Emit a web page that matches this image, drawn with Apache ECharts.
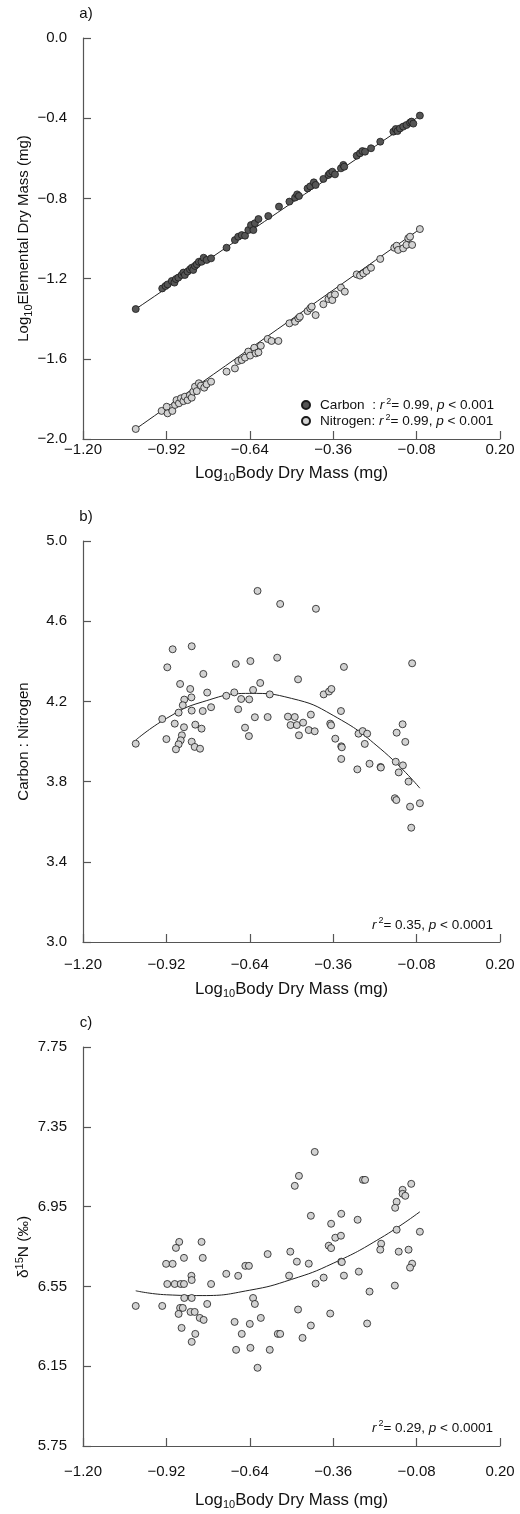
<!DOCTYPE html>
<html>
<head>
<meta charset="utf-8">
<script src="https://cdn.jsdelivr.net/npm/echarts@6/dist/echarts.min.js"></script>
<style>
  html, body { margin: 0; padding: 0; background: #fff; }
  #chart { width: 520px; height: 1514px; }
</style>
</head>
<body>
<div id="chart"></div>
<script>
// ---- a) log10 body dry mass (mg) vs log10 elemental dry mass (mg) ----
const carbonPoints = [
  [-1.023,-1.352],[-0.934,-1.249],[-0.923,-1.237],[-0.916,-1.229],[-0.902,-1.212],[-0.893,-1.220],
  [-0.888,-1.202],[-0.880,-1.195],[-0.869,-1.182],[-0.863,-1.170],[-0.858,-1.182],[-0.849,-1.165],
  [-0.841,-1.154],[-0.835,-1.146],[-0.830,-1.157],[-0.824,-1.137],[-0.818,-1.129],[-0.811,-1.116],
  [-0.802,-1.116],[-0.795,-1.096],[-0.785,-1.107],[-0.770,-1.099],[-0.718,-1.046],[-0.690,-1.008],
  [-0.679,-0.991],[-0.667,-0.983],[-0.656,-0.986],[-0.645,-0.958],[-0.636,-0.933],[-0.628,-0.958],
  [-0.623,-0.924],[-0.611,-0.903],[-0.578,-0.888],[-0.542,-0.841],[-0.507,-0.816],[-0.488,-0.796],
  [-0.481,-0.780],[-0.475,-0.788],[-0.446,-0.750],[-0.437,-0.740],[-0.425,-0.720],[-0.419,-0.733],
  [-0.393,-0.703],[-0.376,-0.683],[-0.371,-0.675],[-0.363,-0.667],[-0.354,-0.680],[-0.334,-0.650],
  [-0.326,-0.633],[-0.323,-0.642],[-0.281,-0.587],[-0.270,-0.575],[-0.262,-0.564],[-0.253,-0.567],
  [-0.233,-0.550],[-0.202,-0.517],[-0.158,-0.467],[-0.150,-0.454],[-0.144,-0.464],[-0.136,-0.451],
  [-0.125,-0.442],[-0.114,-0.434],[-0.102,-0.422],[-0.097,-0.417],[-0.091,-0.427],[-0.069,-0.387]
];
const nitrogenPoints = [
  [-1.023,-1.950],[-0.936,-1.860],[-0.919,-1.839],[-0.916,-1.872],[-0.900,-1.860],[-0.891,-1.830],
  [-0.886,-1.806],[-0.878,-1.822],[-0.871,-1.797],[-0.863,-1.811],[-0.858,-1.789],[-0.849,-1.806],
  [-0.841,-1.781],[-0.835,-1.794],[-0.830,-1.764],[-0.824,-1.739],[-0.818,-1.761],[-0.811,-1.722],
  [-0.804,-1.734],[-0.793,-1.744],[-0.785,-1.727],[-0.770,-1.714],[-0.718,-1.664],[-0.690,-1.648],
  [-0.679,-1.611],[-0.667,-1.606],[-0.656,-1.594],[-0.645,-1.564],[-0.639,-1.584],[-0.625,-1.545],
  [-0.620,-1.573],[-0.611,-1.568],[-0.603,-1.535],[-0.580,-1.501],[-0.567,-1.511],[-0.544,-1.511],
  [-0.507,-1.423],[-0.488,-1.415],[-0.477,-1.398],[-0.472,-1.390],[-0.446,-1.362],[-0.437,-1.348],
  [-0.432,-1.340],[-0.419,-1.382],[-0.393,-1.328],[-0.376,-1.302],[-0.368,-1.285],[-0.363,-1.307],
  [-0.354,-1.279],[-0.334,-1.245],[-0.321,-1.265],[-0.281,-1.179],[-0.270,-1.185],[-0.259,-1.174],
  [-0.248,-1.162],[-0.233,-1.146],[-0.202,-1.102],[-0.155,-1.046],[-0.147,-1.036],[-0.142,-1.057],
  [-0.125,-1.049],[-0.114,-1.032],[-0.108,-0.999],[-0.102,-0.991],[-0.095,-1.032],[-0.069,-0.953]
];
const carbonFit = [[-1.023,-1.352],[-0.069,-0.388]];
const nitrogenFit = [[-1.023,-1.950],[-0.069,-0.953]];

// ---- b) carbon : nitrogen ratio ----
const ratioPoints = [
  [-0.614,4.751],[-0.538,4.686],[-0.899,4.460],[-0.835,4.475],[-0.917,4.370],[-0.687,4.387],
  [-0.638,4.401],[-0.548,4.418],[-0.796,4.337],[-0.874,4.287],[-0.840,4.262],[-0.783,4.244],
  [-0.605,4.292],[-0.629,4.257],[-0.573,4.235],[-0.692,4.245],[-0.719,4.228],[-0.860,4.209],
  [-0.836,4.220],[-0.669,4.212],[-0.642,4.210],[-0.865,4.181],[-0.879,4.144],[-0.835,4.154],
  [-0.798,4.152],[-0.770,4.171],[-0.679,4.161],[-0.934,4.112],[-0.892,4.089],[-0.861,4.071],
  [-0.823,4.084],[-0.802,4.064],[-0.623,4.121],[-0.580,4.122],[-0.656,4.069],[-0.643,4.027],
  [-1.023,3.989],[-0.920,4.012],[-0.868,4.031],[-0.872,4.006],[-0.879,3.986],[-0.888,3.961],
  [-0.835,3.999],[-0.825,3.973],[-0.807,3.964],
  [-0.418,4.662],[-0.324,4.372],[-0.095,4.390],[-0.478,4.310],[-0.392,4.235],[-0.374,4.249],
  [-0.366,4.262],[-0.512,4.124],[-0.489,4.122],[-0.503,4.082],[-0.482,4.082],[-0.461,4.094],
  [-0.435,4.134],[-0.475,4.031],[-0.442,4.057],[-0.422,4.051],[-0.370,4.089],[-0.367,4.081],
  [-0.334,4.152],[-0.353,4.014],[-0.333,3.976],[-0.331,3.971],[-0.333,3.913],[-0.275,4.039],
  [-0.261,4.052],[-0.246,4.039],[-0.254,3.988],[-0.279,3.861],[-0.238,3.889],[-0.201,3.873],
  [-0.200,3.870],[-0.150,3.899],[-0.126,3.881],[-0.140,3.846],[-0.147,4.044],[-0.127,4.086],
  [-0.118,3.998],[-0.107,3.800],[-0.153,3.717],[-0.148,3.708],[-0.102,3.675],[-0.069,3.692],
  [-0.098,3.570]
];
const ratioFit = [
  [-1.023,4.007],[-0.92,4.115],[-0.80,4.197],[-0.64,4.240],[-0.50,4.215],
  [-0.36,4.130],[-0.20,3.962],[-0.069,3.767]
];

// ---- c) delta 15N (per mil) ----
const isotopePoints = [
  [-0.877,6.773],[-0.888,6.743],[-0.802,6.773],[-0.861,6.693],[-0.798,6.693],[-0.921,6.663],
  [-0.899,6.663],[-0.580,6.712],[-0.655,6.653],[-0.643,6.653],[-0.719,6.613],[-0.679,6.603],
  [-0.836,6.603],[-0.835,6.582],[-0.917,6.562],[-0.892,6.562],[-0.872,6.562],[-0.861,6.562],
  [-0.770,6.562],[-0.860,6.492],[-0.835,6.492],[-0.629,6.492],[-0.623,6.462],[-1.023,6.452],
  [-0.934,6.452],[-0.874,6.442],[-0.865,6.442],[-0.879,6.412],[-0.783,6.462],[-0.839,6.422],
  [-0.825,6.422],[-0.808,6.392],[-0.795,6.382],[-0.869,6.342],[-0.823,6.312],[-0.835,6.272],
  [-0.691,6.372],[-0.640,6.362],[-0.603,6.392],[-0.667,6.312],[-0.546,6.312],[-0.538,6.312],
  [-0.686,6.232],[-0.638,6.242],[-0.573,6.232],[-0.614,6.142],
  [-0.422,7.224],[-0.475,7.104],[-0.489,7.054],[-0.260,7.084],[-0.253,7.084],[-0.098,7.064],
  [-0.127,7.034],[-0.127,7.014],[-0.118,7.004],[-0.147,6.974],[-0.152,6.944],[-0.435,6.904],
  [-0.333,6.914],[-0.367,6.864],[-0.278,6.884],[-0.147,6.834],[-0.069,6.824],[-0.353,6.794],
  [-0.334,6.804],[-0.375,6.754],[-0.367,6.742],[-0.199,6.764],[-0.202,6.734],[-0.140,6.724],
  [-0.107,6.734],[-0.504,6.724],[-0.482,6.674],[-0.442,6.664],[-0.333,6.674],[-0.331,6.672],
  [-0.095,6.664],[-0.102,6.644],[-0.508,6.604],[-0.392,6.594],[-0.324,6.604],[-0.274,6.624],
  [-0.419,6.564],[-0.153,6.554],[-0.238,6.524],[-0.478,6.434],[-0.370,6.414],[-0.435,6.354],
  [-0.246,6.364],[-0.463,6.292]
];
const isotopeFit = [
  [-1.023,6.528],[-0.92,6.508],[-0.80,6.504],[-0.64,6.531],[-0.50,6.585],
  [-0.36,6.666],[-0.20,6.793],[-0.069,6.924]
];

// axis ranges: [min, max, interval, decimals]
const xRange = [-1.2, 0.2, 0.28, 2];
const yRanges = [[-2.0, 0.0, 0.4, 1], [3.0, 5.0, 0.4, 1], [5.75, 7.75, 0.4, 2]];

const FONT = '"Liberation Sans", Arial, Helvetica, sans-serif';
const AXIS_COLOR = '#555';
const TEXT_COLOR = '#111';
const DARK_FILL = '#555555';
const LIGHT_FILL = '#d2d2d2';
const EDGE = '#1a1a1a';

const fmt = (d) => (v) => {
  const n = Math.abs(v) < 1e-9 ? 0 : v;
  return n.toFixed(d).replace('-', '\u2212');
};

const grids = [
  { left: 83, right: 20, top: 38, height: 401 },
  { left: 83, right: 20, top: 541, height: 401 },
  { left: 83, right: 20, top: 1047, height: 399 }
];
// gap between each panel's x axis and its tick labels
const xLabelMargins = [3, 15, 18];

const lineStyle = { color: AXIS_COLOR, width: 1.2 };

const xAxes = grids.map((g, i) => ({
  type: 'value', gridIndex: i,
  min: xRange[0], max: xRange[1], interval: xRange[2],
  axisLine: { show: true, onZero: false, lineStyle },
  axisTick: { show: true, inside: true, length: 8, lineStyle },
  axisLabel: { formatter: fmt(xRange[3]), color: TEXT_COLOR, fontSize: 15, fontFamily: FONT, margin: xLabelMargins[i] },
  splitLine: { show: false }
}));

const yAxes = grids.map((g, i) => ({
  type: 'value', gridIndex: i,
  min: yRanges[i][0], max: yRanges[i][1], interval: yRanges[i][2],
  axisLine: { show: true, onZero: false, lineStyle },
  axisTick: { show: true, inside: true, length: 8, lineStyle },
  axisLabel: { formatter: fmt(yRanges[i][3]), color: TEXT_COLOR, fontSize: 15, fontFamily: FONT, margin: 16 },
  splitLine: { show: false }
}));

function scatter(name, data, idx, fill) {
  return {
    name, type: 'scatter', data, xAxisIndex: idx, yAxisIndex: idx,
    symbol: 'circle', symbolSize: 7, z: 3, silent: true,
    itemStyle: { color: fill, borderColor: EDGE, borderWidth: 0.8, opacity: 1 }
  };
}
function fitLine(name, data, idx) {
  return {
    name, type: 'line', data, xAxisIndex: idx, yAxisIndex: idx,
    smooth: true, showSymbol: false, z: 2, silent: true,
    lineStyle: { color: '#222', width: 1 }
  };
}

const statRich = (lh, fs) => ({
  i: { fontStyle: 'italic', fontFamily: FONT, fontSize: fs, color: TEXT_COLOR, lineHeight: lh },
  sup: { fontFamily: FONT, fontSize: 9, color: TEXT_COLOR, verticalAlign: 'top', padding: [0, 0, 0, 2] },
  g: { width: 5 }
});

const titleRich = {
  sub: { fontFamily: FONT, fontSize: 11, color: TEXT_COLOR, verticalAlign: 'bottom' },
  sup: { fontFamily: FONT, fontSize: 11, color: TEXT_COLOR, verticalAlign: 'top' }
};

function textEl(text, x, y, opts) {
  return Object.assign({
    type: 'text', x, y, silent: true,
    style: Object.assign({
      text, fill: TEXT_COLOR, fontFamily: FONT, fontSize: 15,
      align: 'center', verticalAlign: 'middle', lineHeight: 20
    }, opts && opts.style)
  }, opts && opts.el);
}

const xTitle = 'Log{sub|10}Body Dry Mass (mg)';
const graphics = [
  textEl('a)', 86, 14),
  textEl('b)', 86, 517),
  textEl('c)', 86, 1023),
  textEl(xTitle, 291.5, 473, { style: { rich: titleRich, fontSize: 16.8 } }),
  textEl(xTitle, 291.5, 989, { style: { rich: titleRich, fontSize: 16.8 } }),
  textEl(xTitle, 291.5, 1500, { style: { rich: titleRich, fontSize: 16.8 } }),
  textEl('Log{sub|10}Elemental Dry Mass (mg)', 24, 238.5, { style: { rich: titleRich }, el: { rotation: Math.PI / 2 } }),
  textEl('Carbon : Nitrogen', 24, 741.5, { el: { rotation: Math.PI / 2 } }),
  textEl('\u03b4{sup|15}N (\u2030)', 24, 1247, { style: { rich: titleRich, fontSize: 15.5 }, el: { rotation: Math.PI / 2 } }),
  textEl('{i|r}{sup|2}= 0.35, {i|p} < 0.0001', 493, 925, { style: { rich: statRich(18, 13.5), align: 'right', fontSize: 13.5, lineHeight: 18 } }),
  textEl('{i|r}{sup|2}= 0.29, {i|p} < 0.0001', 493, 1428, { style: { rich: statRich(18, 13.5), align: 'right', fontSize: 13.5, lineHeight: 18 } })
];

const legendText = {
  Carbon: '{g| }Carbon  : {i|r}{sup|2}= 0.99, {i|p} < 0.001',
  Nitrogen: '{g| }Nitrogen: {i|r}{sup|2}= 0.99, {i|p} < 0.001'
};

const chart = echarts.init(document.getElementById('chart'), null, { renderer: 'canvas' });
chart.setOption({
  animation: false,
  backgroundColor: '#fff',
  grid: grids,
  xAxis: xAxes,
  yAxis: yAxes,
  legend: {
    data: ['Carbon', 'Nitrogen'],
    orient: 'vertical', left: 301, top: 397, padding: 0,
    icon: 'circle', itemWidth: 8, itemHeight: 8, itemGap: 0,
    selectedMode: false,
    formatter: (name) => legendText[name],
    textStyle: {
      fontFamily: FONT, fontSize: 13.6, color: TEXT_COLOR, lineHeight: 16,
      rich: statRich(16, 13.6)
    }
  },
  series: [
    fitLine('Carbon fit', carbonFit, 0),
    fitLine('Nitrogen fit', nitrogenFit, 0),
    scatter('Carbon', carbonPoints, 0, DARK_FILL),
    scatter('Nitrogen', nitrogenPoints, 0, LIGHT_FILL),
    fitLine('C:N fit', ratioFit, 1),
    scatter('C:N', ratioPoints, 1, LIGHT_FILL),
    fitLine('d15N fit', isotopeFit, 2),
    scatter('d15N', isotopePoints, 2, LIGHT_FILL)
  ],
  graphic: graphics
});
</script>
</body>
</html>
